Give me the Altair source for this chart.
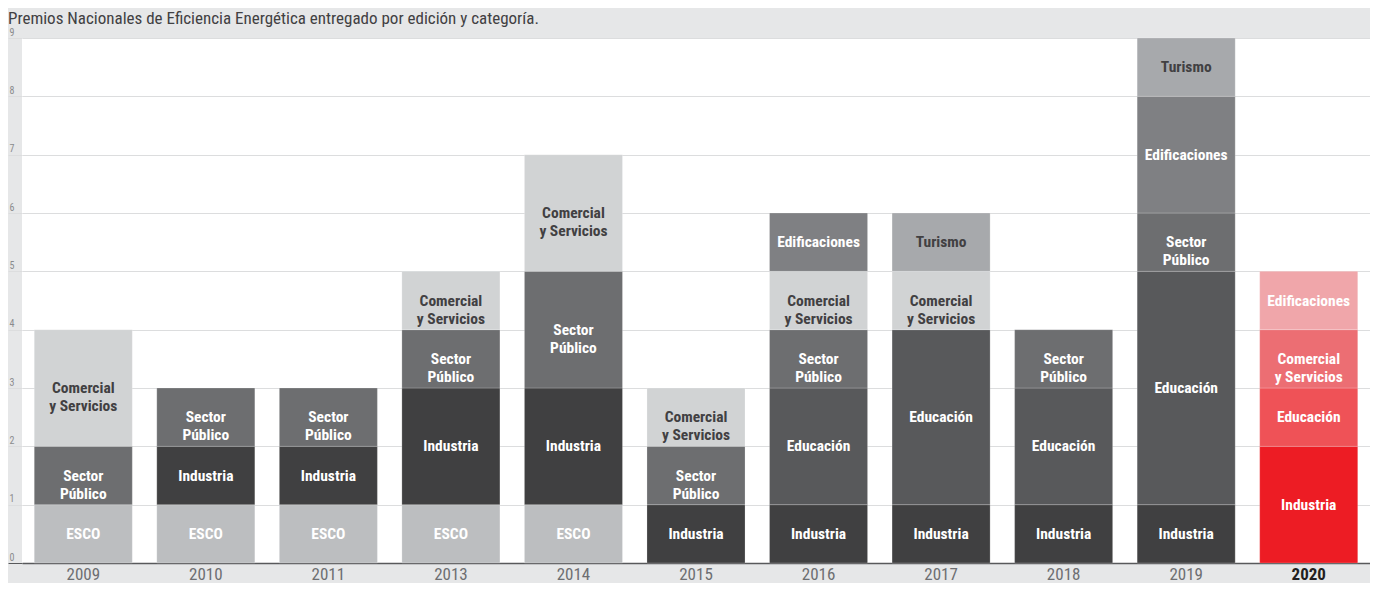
import altair as alt
import pandas as pd

# ---------------- data ----------------
years = ["2009", "2010", "2011", "2013", "2014", "2015", "2016", "2017", "2018", "2019", "2020"]

stack_categories = [
    ["ESCO", "Sector Público", "Comercial y Servicios"],
    ["ESCO", "Industria", "Sector Público"],
    ["ESCO", "Industria", "Sector Público"],
    ["ESCO", "Industria", "Sector Público", "Comercial y Servicios"],
    ["ESCO", "Industria", "Sector Público", "Comercial y Servicios"],
    ["Industria", "Sector Público", "Comercial y Servicios"],
    ["Industria", "Educación", "Sector Público", "Comercial y Servicios", "Edificaciones"],
    ["Industria", "Educación", "Comercial y Servicios", "Turismo"],
    ["Industria", "Educación", "Sector Público"],
    ["Industria", "Educación", "Sector Público", "Edificaciones", "Turismo"],
    ["Industria", "Educación", "Comercial y Servicios", "Edificaciones"],
]

stack_values = [
    [1, 1, 2],
    [1, 1, 1],
    [1, 1, 1],
    [1, 2, 1, 1],
    [1, 2, 2, 2],
    [1, 1, 1],
    [1, 2, 1, 1, 1],
    [1, 3, 1, 1],
    [1, 2, 1],
    [1, 4, 1, 2, 1],
    [2, 1, 1, 1],
]

label_text = {
    "ESCO": "ESCO",
    "Industria": "Industria",
    "Sector Público": "Sector\nPúblico",
    "Comercial y Servicios": "Comercial\ny Servicios",
    "Educación": "Educación",
    "Edificaciones": "Edificaciones",
    "Turismo": "Turismo",
}

gray_colors = {
    "ESCO": "#bcbec0",
    "Industria": "#404041",
    "Sector Público": "#6d6e70",
    "Comercial y Servicios": "#d1d3d4",
    "Educación": "#58595b",
    "Edificaciones": "#7f8083",
    "Turismo": "#a7a9ac",
}

red_colors = {
    "Industria": "#ed1c24",
    "Educación": "#ef5257",
    "Comercial y Servicios": "#ec6e73",
    "Edificaciones": "#f0a6aa",
}

dark_text_categories = ["Comercial y Servicios", "Turismo"]
highlight_year = "2020"
title_text = "Premios Nacionales de Eficiencia Energética entregado por edición y categoría."
y_ticks = list(range(10))

FONT = "Liberation Sans Narrow, Roboto Condensed, DejaVu Sans Condensed, Arial Narrow, sans-serif"

# ---------------- build table ----------------
rows = []
for year, cats, vals in zip(years, stack_categories, stack_values):
    base = 0
    for order, (cat, val) in enumerate(zip(cats, vals)):
        if year == highlight_year:
            fill = red_colors[cat]
            tcol = "#ffffff"
        else:
            fill = gray_colors[cat]
            tcol = "#414042" if cat in dark_text_categories else "#ffffff"
        rows.append({
            "year": year,
            "category": cat,
            "value": val,
            "y0": base,
            "y1": base + val,
            "mid": base + val / 2,
            "label": label_text[cat],
            "fill": fill,
            "textcolor": tcol,
            "order": order,
        })
        base += val
df = pd.DataFrame(rows)

x_enc = alt.X(
    "year:N",
    sort=years,
    scale=alt.Scale(paddingInner=0.2, paddingOuter=0.1),
    axis=alt.Axis(
        title=None,
        labelAngle=0,
        labelFont=FONT,
        labelFontSize=17,
        labelPadding=3,
        labelColor=alt.condition(f"datum.value == '{highlight_year}'", alt.value("#231f20"), alt.value("#6d6e71")),
        labelFontWeight=alt.condition(f"datum.value == '{highlight_year}'", alt.value("bold"), alt.value("normal")),
        domain=True,
        domainColor="#58595b",
        domainWidth=1.5,
        ticks=False,
        grid=False,
    ),
)

y_scale = alt.Scale(domain=[0, 9], nice=False)

bars = alt.Chart(df).mark_bar(
    stroke="#ffffff", strokeWidth=0.6, strokeOpacity=0.35
).encode(
    x=x_enc,
    y=alt.Y(
        "y0:Q",
        scale=y_scale,
        axis=alt.Axis(
            title=None,
            values=y_ticks,
            format="d",
            domain=False,
            grid=True,
            gridColor="#dcddde",
            ticks=True,
            tickSize=14,
            tickColor=alt.condition("datum.value == 0", alt.value("#58595b"), alt.value("#dcddde")),
            labelAlign="left",
            labelBaseline="bottom",
            labelPadding=-1,
            labelOffset=-1,
            labelFont=FONT,
            labelFontSize=10,
            labelColor="#8a8b8d",
        ),
    ),
    y2="y1:Q",
    color=alt.Color("fill:N", scale=None),
)

texts = alt.Chart(df).mark_text(
    font=FONT, fontSize=15.5, fontWeight="bold", lineBreak="\n", lineHeight=18,
    align="center", baseline="middle",
).encode(
    x=alt.X("year:N", sort=years),
    y=alt.Y("mid:Q", scale=y_scale),
    text="label:N",
    color=alt.Color("textcolor:N", scale=None),
)

title = alt.Chart(pd.DataFrame({"t": [title_text]})).mark_text(
    font=FONT, fontSize=17, align="left", baseline="alphabetic", color="#414042",
).encode(
    x=alt.value(-14),
    y=alt.value(-14.5),
    text="t:N",
)

chart = alt.layer(bars, texts, title).properties(
    width=1348,
    height=525,
    autosize=alt.AutoSizeParams(type="none"),
    padding={"left": 14, "top": 30, "right": 0, "bottom": 20},
    background="#e6e7e8",
).configure_view(fill="#ffffff", strokeWidth=0)

chart.save("out.html", embed_options={"renderer": "svg", "actions": False})
